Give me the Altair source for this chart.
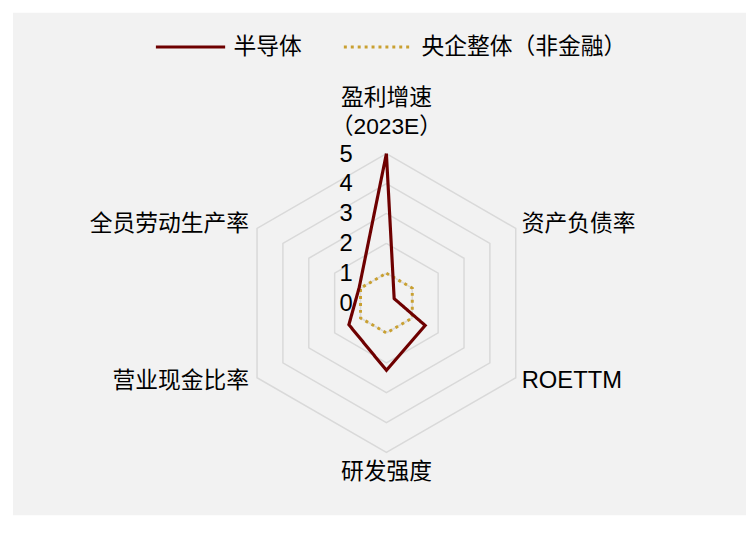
import altair as alt
import pandas as pd

# ---- data ----
categories = ["盈利增速\n（2023E）", "资产负债率", "ROETTM", "研发强度", "营业现金比率", "全员劳动生产率"]
semiconductor = [5.0, 0.3, 1.5, 2.25, 1.45, 1.05]
soe_total = [1.0, 1.0, 1.0, 1.0, 1.0, 1.0]
series_names = ["半导体", "央企整体（非金融）"]
ring_levels = [1, 2, 3, 4, 5]
tick_values = [0, 1, 2, 3, 4, 5]
tick_labels = ["0", "1", "2", "3", "4", "5"]
label_radius = 5

RED = "#6e0000"
GOLD = "#c9a031"
LATIN = "Liberation Sans, Arial, Noto Sans CJK SC"
CJK = "Noto Sans CJK SC, Liberation Sans"

n = len(categories)
series_rows = []
for name, vals in zip(series_names, [semiconductor, soe_total]):
    for k in range(n + 1):
        series_rows.append({"series": name, "idx": k % n, "ord": k, "v": vals[k % n]})
series_df = pd.DataFrame(series_rows)

grid_rows = []
for lv in ring_levels:
    for k in range(n + 1):
        grid_rows.append({"level": lv, "idx": k % n, "ord": k, "v": lv})
grid_df = pd.DataFrame(grid_rows)

tick_df = pd.DataFrame({"v": tick_values, "t": tick_labels, "idx": [0] * len(tick_values)})
label_df = pd.DataFrame({"cat": categories, "idx": list(range(n)), "v": [label_radius] * n})

UNIT = 30.2
W, H = 741, 508
CX, CY = 377.5, 293.5
xdom = [-CX / UNIT, (W - CX) / UNIT]
ydom = [-(H - CY) / UNIT, CY / UNIT]

X = alt.X("x:Q", scale=alt.Scale(domain=xdom, nice=False, zero=False), axis=None)
Y = alt.Y("y:Q", scale=alt.Scale(domain=ydom, nice=False, zero=False), axis=None)

def polar(chart):
    return chart.transform_calculate(
        x="datum.v * sin(datum.idx * PI / 3)",
        y="datum.v * cos(datum.idx * PI / 3)",
    )

legend = alt.Legend(
    title=None, orient="none", legendX=143, legendY=-2, direction="horizontal",
    symbolType="stroke", symbolSize=4900, symbolStrokeWidth=3,
    labelFont=CJK, labelFontSize=23, labelColor="#000000", labelOffset=7,
    columnPadding=36, labelLimit=400,
)
color = alt.Color("series:N", scale=alt.Scale(domain=series_names, range=[RED, GOLD]), legend=legend)
dash = alt.StrokeDash("series:N", scale=alt.Scale(domain=series_names, range=[[1, 0], [3, 4]]), legend=legend)

grid = polar(alt.Chart(grid_df)).mark_line(color="#d9d9d9", strokeWidth=1.5).encode(
    x=X, y=Y, detail="level:N", order="ord:Q"
)

soe_line = polar(alt.Chart(series_df)).transform_filter(
    alt.datum.series == series_names[1]
).mark_line(strokeWidth=3).encode(x=X, y=Y, color=color, strokeDash=dash, order="ord:Q")

semi_line = polar(alt.Chart(series_df)).transform_filter(
    alt.datum.series == series_names[0]
).mark_line(strokeWidth=3.2).encode(x=X, y=Y, color=color, strokeDash=dash, order="ord:Q")

ticks = polar(alt.Chart(tick_df)).mark_text(
    align="right", baseline="middle", dx=-34, dy=1, fontSize=24, font=LATIN, color="#000000"
).encode(x=X, y=Y, text="t:N")

def label_layer(i, align, dx, dy, font=CJK, size=23):
    return polar(alt.Chart(label_df)).transform_filter(
        alt.datum.idx == i
    ).mark_text(
        align=align, baseline="middle", dx=dx, dy=dy, fontSize=size, font=font,
        color="#000000", lineBreak="\n", lineHeight=29,
    ).encode(x=X, y=Y, text="cat:N")

labels = [
    label_layer(0, "center", 0, -56, LATIN, 23),
    label_layer(1, "left", 6, -4),
    label_layer(2, "left", 6, 3, LATIN, 24),
    label_layer(3, "center", 0, 20),
    label_layer(4, "right", -8, 3),
    label_layer(5, "right", -8, -4),
]

chart = alt.layer(grid, soe_line, semi_line, ticks, *labels).properties(
    width=W, height=H, autosize="none", background="white",
    padding={"left": 5, "top": 2, "right": 0, "bottom": 0},
).configure_view(fill="#f2f2f2", stroke=None)

chart.save("out.html", embed_options={"renderer": "svg", "actions": False})
